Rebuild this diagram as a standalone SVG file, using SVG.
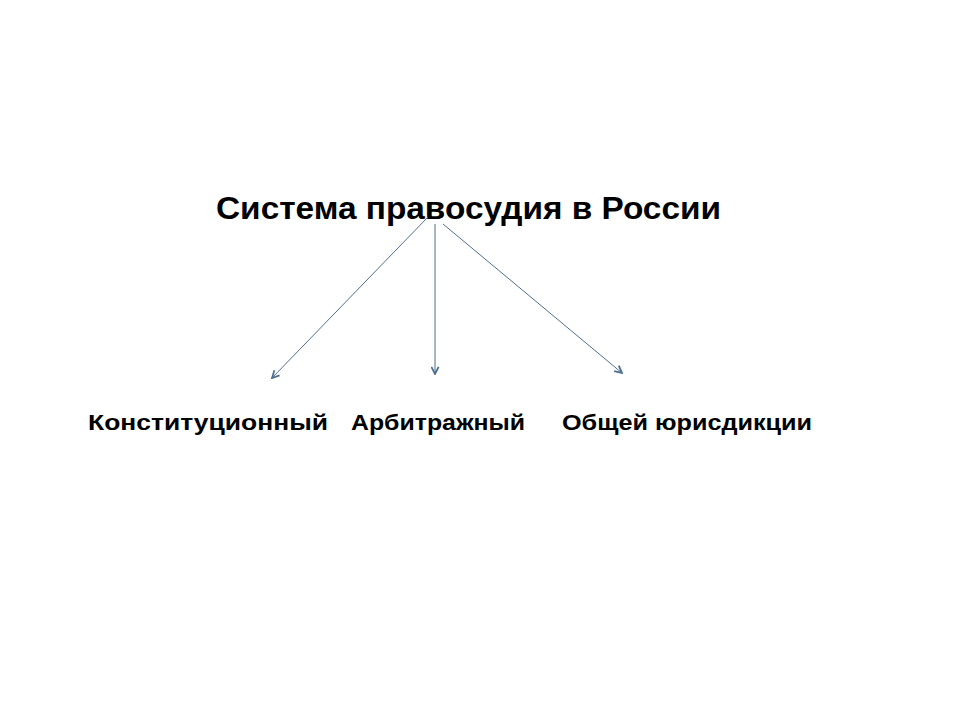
<svg xmlns="http://www.w3.org/2000/svg" width="960" height="720" viewBox="0 0 960 720">
<defs>
<style>
.title{font-family:"Liberation Sans",Arial,sans-serif;font-weight:bold;font-size:31px;fill:#000}
.lbl{font-family:"Liberation Sans",Arial,sans-serif;font-weight:bold;font-size:22px;fill:#000}
.conn{stroke:#4f6f8f;stroke-width:1;fill:none}
</style>
<marker id="arr" viewBox="0 0 10 10" refX="9" refY="5" markerWidth="9" markerHeight="9" markerUnits="userSpaceOnUse" orient="auto">
<path d="M1,1 L9,5 L1,9" fill="none" stroke="#4f6f8f" stroke-width="2"/>
</marker>
</defs>
<rect width="960" height="720" fill="#fff"/>
<g id="root"><text class="title" x="216" y="219" textLength="505" lengthAdjust="spacingAndGlyphs">Система правосудия в России</text></g>
<g id="n1"><text class="lbl" x="88" y="430" textLength="240" lengthAdjust="spacingAndGlyphs">Конституционный</text></g>
<g id="n2"><text class="lbl" x="351" y="430" textLength="174" lengthAdjust="spacingAndGlyphs">Арбитражный</text></g>
<g id="n3"><text class="lbl" x="562" y="430" textLength="250" lengthAdjust="spacingAndGlyphs">Общей юрисдикции</text></g>
<g id="connectors">
<line class="conn" x1="428" y1="217" x2="272" y2="378" marker-end="url(#arr)"/>
<line class="conn" x1="435" y1="224" x2="435" y2="374" marker-end="url(#arr)"/>
<line class="conn" x1="443" y1="224" x2="622" y2="373" marker-end="url(#arr)"/>
</g>
</svg>
